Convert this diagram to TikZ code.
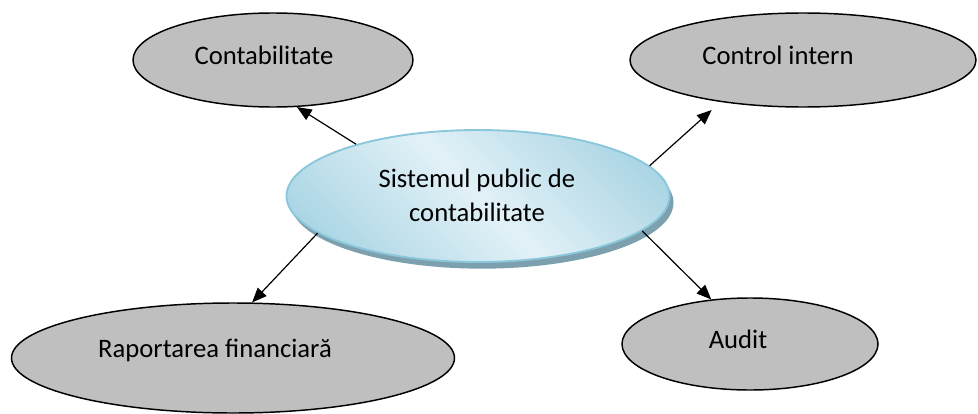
\documentclass[tikz,border=0pt]{standalone}
\usepackage{fontspec}
\setmainfont{Carlito}
\usetikzlibrary{shapes.geometric,arrows.meta,shadows}
\definecolor{ovalgray}{RGB}{191,191,191}
\definecolor{bluedk}{RGB}{170,213,228}
\definecolor{bluelt}{RGB}{226,241,247}
\definecolor{blueedge}{RGB}{138,199,219}
\definecolor{blueshadow}{RGB}{125,160,175}
\pgfdeclarehorizontalshading{spcshade}{100bp}{color(0bp)=(bluedk); color(22bp)=(bluedk); color(50bp)=(bluelt); color(78bp)=(bluedk); color(100bp)=(bluedk)}
\tikzset{
  oval/.style={ellipse, draw=black, line width=1.1pt, fill=ovalgray, inner sep=0pt},
  hub/.style={ellipse, draw=blueedge, line width=1.4pt, shading=spcshade, shading angle=45, inner sep=0pt,
    drop shadow={shadow xshift=3pt, shadow yshift=-5pt, fill=blueshadow, opacity=1}},
  lbl/.style={font=\fontsize{20}{25}\selectfont, anchor=base, align=center, inner sep=0pt},
  link/.style={-{Triangle[length=11pt,width=9pt]}, line width=0.9pt, black}
}
\begin{document}
\begin{tikzpicture}[x=0.75pt,y=-0.75pt]
\useasboundingbox (0,0) rectangle (978,414);
\node[hub, minimum width=287.25pt, minimum height=99pt] (c) at (478,196) {};
\node[lbl] (cT) at (477,221) {Sistemul public de\\contabilitate};
\node[oval, minimum width=210pt, minimum height=70.5pt] (k) at (273,60) {};
\node[lbl] (kT) at (264,64) {Contabilitate};
\node[oval, minimum width=259.5pt, minimum height=70.5pt] (ci) at (803,60) {};
\node[lbl] (ciT) at (778,64) {Control intern};
\node[oval, minimum width=192pt, minimum height=69pt] (au) at (750,344) {};
\node[lbl] (auT) at (738,348) {Audit};
\node[oval, minimum width=332.25pt, minimum height=82.5pt] (rf) at (233,358) {};
\node[lbl] (rfT) at (215,357) {Raportarea financiară};
\draw[link] (c.157) -- (k.297);
\draw[link, shorten >=9pt] (c.10) -- (ci.207);
\draw[link] (c.348) -- (au.131);
\draw[link] (c.193) -- (rf.71);
\end{tikzpicture}
\end{document}
